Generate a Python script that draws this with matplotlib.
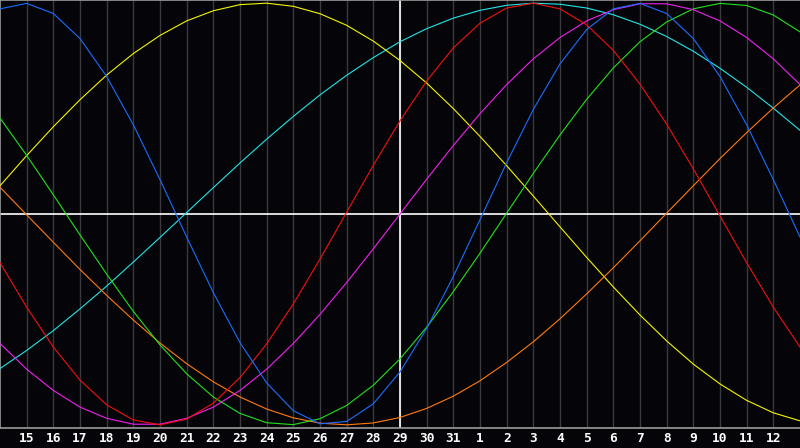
import numpy as np
import matplotlib
matplotlib.use("Agg")
import matplotlib.pyplot as plt

# day positions (14 = left edge, 44 = right edge), labels for 15..43
days = list(range(14, 45))
tick_days = list(range(15, 44))
tick_labels = [str(d) for d in range(15, 32)] + [str(d) for d in range(1, 13)]
today = 29

# values, one per day (14..44), range -1..1
blue = [0.973, 0.999, 0.951, 0.832, 0.652, 0.423, 0.163, -0.109, -0.373, -0.610,
        -0.801, -0.933, -0.995, -0.984, -0.900, -0.749, -0.543, -0.296, -0.027, 0.243,
        0.496, 0.712, 0.875, 0.973, 0.999, 0.951, 0.832, 0.652, 0.423, 0.163, -0.109]
red = [-0.231, -0.442, -0.631, -0.788, -0.905, -0.977, -1.000, -0.973, -0.897, -0.776,
       -0.616, -0.426, -0.214, 0.009, 0.231, 0.442, 0.631, 0.788, 0.905, 0.977,
       1.000, 0.973, 0.897, 0.776, 0.616, 0.426, 0.214, -0.009, -0.231, -0.442, -0.631]
green = [0.455, 0.278, 0.091, -0.099, -0.285, -0.462, -0.621, -0.758, -0.868, -0.946,
         -0.990, -0.999, -0.971, -0.908, -0.812, -0.687, -0.537, -0.368, -0.186, 0.004,
         0.193, 0.375, 0.544, 0.693, 0.817, 0.911, 0.973, 0.999, 0.989, 0.944, 0.864]
magenta = [-0.614, -0.736, -0.837, -0.916, -0.969, -0.997, -0.997, -0.969, -0.916, -0.837,
           -0.736, -0.614, -0.476, -0.325, -0.165, 0.0, 0.165, 0.325, 0.476, 0.614,
           0.736, 0.837, 0.916, 0.969, 0.997, 0.997, 0.969, 0.916, 0.837, 0.736, 0.614]
yellow = [0.134, 0.277, 0.414, 0.542, 0.659, 0.761, 0.847, 0.916, 0.964, 0.993,
          1.000, 0.985, 0.950, 0.895, 0.820, 0.728, 0.621, 0.500, 0.368, 0.229,
          0.085, -0.061, -0.206, -0.346, -0.479, -0.602, -0.712, -0.806, -0.884, -0.943, -0.981]
orange = [0.127, -0.004, -0.134, -0.263, -0.386, -0.503, -0.612, -0.710, -0.796, -0.868,
          -0.925, -0.967, -0.992, -1.000, -0.991, -0.965, -0.922, -0.864, -0.791, -0.704,
          -0.606, -0.497, -0.379, -0.255, -0.127, 0.004, 0.134, 0.263, 0.386, 0.503, 0.612]
cyan = [-0.733, -0.647, -0.553, -0.450, -0.342, -0.228, -0.111, 0.007, 0.125, 0.242,
        0.355, 0.463, 0.565, 0.658, 0.742, 0.817, 0.879, 0.929, 0.966, 0.990,
        1.000, 0.995, 0.977, 0.945, 0.900, 0.842, 0.772, 0.691, 0.601, 0.502, 0.397]

series = [
    (cyan, "#22e4e4"),
    (yellow, "#f4f400"),
    (orange, "#ff7a10"),
    (green, "#22e01c"),
    (magenta, "#f020f0"),
    (red, "#f01010"),
    (blue, "#1c6cff"),
]

bg = "#050509"
fig = plt.figure(figsize=(8, 4.48), dpi=100, facecolor=bg)
ax = fig.add_axes([0, 20 / 448, 1, 428 / 448])
ax.set_facecolor(bg)

ax.set_xlim(14, 44)
ax.set_ylim(-1.015, 1.015)
ax.set_yticks([])
ax.set_xticks(tick_days)
ax.set_xticklabels(tick_labels, color="white", fontsize=9.3,
                   fontweight="bold", family="DejaVu Sans Mono")
ax.tick_params(axis="x", length=0, pad=3)
ax.grid(axis="x", color="#3a3a3e", lw=1.0)
ax.set_axisbelow(True)

for s in ["top", "left", "bottom"]:
    ax.spines[s].set_color("#9a9a9a")
    ax.spines[s].set_linewidth(1.2)
ax.spines["right"].set_visible(False)

ax.axvline(today, color="white", lw=1.2, zorder=1)
ax.axhline(0, color="white", lw=1.2, zorder=1)

for vals, col in series:
    ax.plot(days, vals, color=col, lw=0.8, zorder=3)

fig.savefig("out.png", dpi=100, facecolor=bg)
